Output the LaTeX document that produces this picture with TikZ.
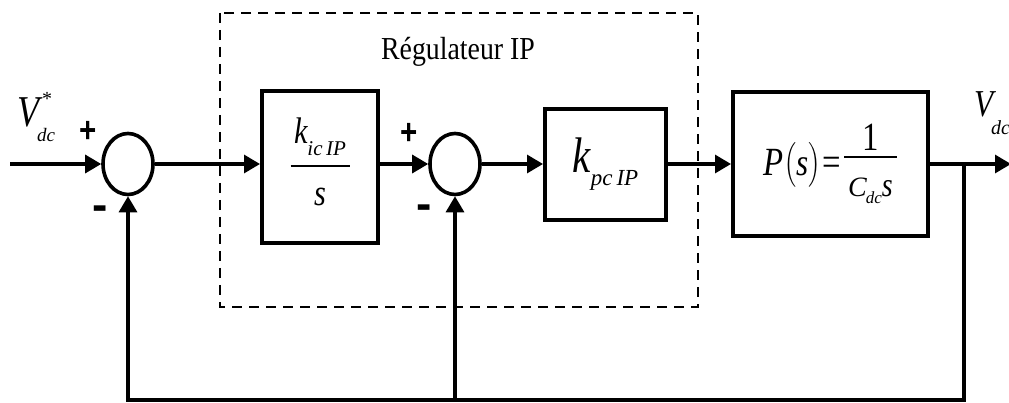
\documentclass[tikz,border=0pt]{standalone}
\usepackage{amsmath}
\usepackage{graphicx}
\usepackage{fontspec}
\setmainfont{Liberation Serif}
\newfontfamily\signfont{Liberation Sans}
\usetikzlibrary{arrows.meta,shapes.geometric}

% narrow letters, as in the drawing
\newcommand{\sq}[1]{\scalebox{0.82}[1]{#1}}
\newcommand{\fs}[1]{\fontsize{#1}{#1}\selectfont}
% fraction: numerator, denominator, gap above rule, gap below rule
\newcommand{\bfrac}[4]{\vbox{\halign{\hfil##\hfil\cr#1\cr
  \noalign{\kern#3\hrule height 2pt\kern#4}#2\cr}}}

\begin{document}
\begin{tikzpicture}[x=1pt, y=-1pt,
  sig/.style={line width=3.2pt, line join=miter, -{Triangle[length=16pt,width=18pt]}},
  blk/.style={draw, line width=4pt, inner sep=0pt},
  sum/.style={draw, ellipse, line width=3.6pt, minimum width=50pt, minimum height=61pt, inner sep=0pt},
  frame/.style={line width=2.2pt, dash pattern=on 10pt off 7pt},
  sgn/.style={font=\signfont\bfseries\fs{36}, inner sep=0pt},
  lbl/.style={inner sep=0pt}]

\useasboundingbox (0,0) rectangle (1009,403);
\clip (0,0) rectangle (1009,403);

% dashed frame of the controller
\draw[frame] (220,13) rectangle (698,307);
\node[lbl] (ttl) at (458,52) {\scalebox{0.87}[1]{\fs{32}Régulateur IP}};

% summing points
\node[sum] (s1) at (128,164) {};
\node[sum] (s2) at (455,164) {};

% blocks
\node[blk, minimum width=116pt, minimum height=152pt] (b1) at (320,167)
  {\bfrac{\makebox[59pt]{\sq{\fs{37}\itshape k}\raisebox{-12pt}{\fs{21}\itshape ic\,IP}}}
         {\sq{\fs{37}\itshape s}}{10pt}{21pt}\rule[-11pt]{0pt}{11pt}};
\node[blk, minimum width=121pt, minimum height=111pt] (b2) at (605.5,164.5)
  {\sq{\fs{50}\itshape k}\raisebox{-13pt}{\fs{23}\itshape pc\,IP}};
\node[blk, minimum width=195pt, minimum height=144pt] (b3) at (830.5,164)
  {\sq{\fs{40}\itshape P}\sq{\fs{38}\raisebox{4pt}{$\Bigl($}\itshape s\raisebox{4pt}{$\Bigr)$}}\kern2pt%
   \sq{\fs{40}=}\kern3pt%
   \raisebox{-21pt}{\bfrac{\makebox[53pt]{\sq{\fs{40}1}}}
     {{\fs{28}\itshape C}\kern-1pt\raisebox{-7pt}{\fs{17}\itshape dc}\sq{\fs{34}\itshape s}}{5pt}{20pt}}};

% signal labels
\node[lbl, anchor=base west] (vref) at (17,127)
  {\sq{\fs{44}\itshape V}\kern-2pt\rlap{\kern5pt\raisebox{21pt}{\fs{20}*}}\raisebox{-15pt}{\fs{19}\itshape dc}};
\node[lbl, anchor=base west] (vout) at (974,117)
  {\sq{\fs{38}\itshape V}\kern-2pt\raisebox{-18pt}{\fs{20}\itshape dc}};

% signs
\node[sgn] (p1) at (88,132) {\sq{+}};
\node[sgn] (m1) at (100,213) {\fs{46}-};
\node[sgn] (p2) at (409,134) {\sq{+}};
\node[sgn] (m2) at (424,212) {\fs{46}-};

% points on the lines
\coordinate (in) at (10,164);
\coordinate (out) at (1011,164);
\coordinate (br) at (964,164);
\coordinate (fb) at (964,400);

% forward path
\draw[sig] (in) -- (s1);
\draw[sig] (s1) -- (s1 -| b1.west);
\draw[sig] (b1.east |- s2) -- (s2);
\draw[sig] (s2) -- (s2 -| b2.west);
\draw[sig] (b2.east |- b3) -- (b3.west);
\draw[sig] (b3) -- (out);

% feedback
\draw[sig] (br) |- (s1 |- fb) -- (s1);
\draw[sig] (s2 |- fb) -- (s2);

\end{tikzpicture}
\end{document}
